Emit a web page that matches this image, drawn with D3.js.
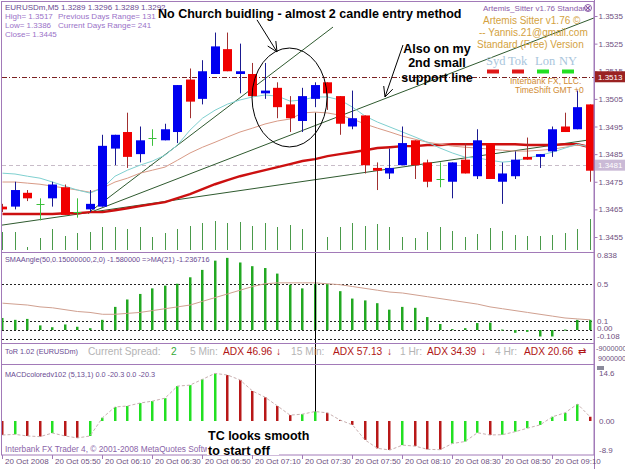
<!DOCTYPE html>
<html>
<head>
<meta charset="utf-8">
<script src="https://cdn.jsdelivr.net/npm/d3@7"></script>
<style>
body { margin: 0; background: #fff; }
svg { display: block; font-family: "Liberation Sans", Arial, sans-serif; }
</style>
</head>
<body>
<svg id="chart" width="625" height="469"></svg>
<script>
// EURUSDm M5, 20 Oct 2008 05:30 - 09:25 (48 bars)
var opens  = [1.3466,1.3466,1.3471,1.3467,1.3469,1.3473,1.3464,1.3465,1.3466,1.3487,1.3493,1.3485,1.3491,1.3490,1.3493,1.3512,1.3505,1.3514,1.3523,1.3514,1.3514,1.3507,1.3509,1.3503,1.3497,1.3505,1.3511,1.3506,1.3495,1.3499,1.3480,1.3478,1.3481,1.3490,1.3482,1.3476,1.3475,1.3483,1.3477,1.3489,1.3475,1.3477,1.3484,1.3484,1.3486,1.3495,1.3494,1.3503];
var highs  = [1.3467,1.3475,1.3472,1.3469,1.3475,1.3474,1.3469,1.3472,1.3492,1.3492,1.3500,1.3495,1.3494,1.3496,1.3510,1.3516,1.3519,1.3529,1.3529,1.3525,1.3518,1.3518,1.3511,1.3506,1.3509,1.3511,1.3511,1.3506,1.3508,1.3499,1.3482,1.3487,1.3495,1.3490,1.3483,1.3482,1.3482,1.3489,1.3494,1.3489,1.3482,1.3486,1.3491,1.3485,1.3495,1.3500,1.3508,1.3503];
var lows   = [1.3464,1.3465,1.3468,1.3461,1.3466,1.3463,1.3462,1.3464,1.3466,1.3481,1.3480,1.3482,1.3488,1.3490,1.3489,1.3498,1.3503,1.3514,1.3515,1.3507,1.3506,1.3505,1.3498,1.3493,1.3493,1.3502,1.3501,1.3492,1.3494,1.3478,1.3472,1.3476,1.3481,1.3476,1.3473,1.3473,1.3469,1.3478,1.3476,1.3476,1.3467,1.3476,1.3483,1.3480,1.3484,1.3493,1.3494,1.3475];
var closes = [1.3465,1.3472,1.3469,1.3467,1.3474,1.3463,1.3464,1.3467,1.3488,1.3492,1.3484,1.3490,1.3491,1.3494,1.3510,1.3504,1.3515,1.3524,1.3515,1.3515,1.3506,1.3508,1.3502,1.3498,1.3506,1.3510,1.3507,1.3496,1.3498,1.3481,1.3479,1.3480,1.3489,1.3481,1.3475,1.3476,1.3482,1.3478,1.3490,1.3476,1.3478,1.3483,1.3483,1.3485,1.3494,1.3493,1.3502,1.3479];
var volumes = [90,90,15,60,105,70,85,90,115,115,105,115,65,85,105,120,135,145,135,140,120,135,115,125,105,85,65,115,135,120,130,115,65,60,90,115,95,65,80,110,95,75,70,70,75,85,105,155];

// moving averages
var maFast = [1.34781,1.34778,1.34770,1.34763,1.34749,1.34734,1.34720,1.34709,1.34727,1.34770,1.34792,1.34810,1.34825,1.34846,1.34883,1.34937,1.34980,1.35009,1.35031,1.35046,1.35057,1.35064,1.35060,1.35042,1.35046,1.35057,1.35057,1.35046,1.35020,1.34988,1.34966,1.34948,1.34930,1.34912,1.34893,1.34872,1.34854,1.34839,1.34836,1.34828,1.34821,1.34825,1.34836,1.34846,1.34857,1.34872,1.34886,1.34875];
var maMid  = [1.34749,1.34749,1.34745,1.34741,1.34734,1.34727,1.34720,1.34712,1.34727,1.34749,1.34763,1.34781,1.34792,1.34803,1.34828,1.34854,1.34875,1.34893,1.34912,1.34930,1.34944,1.34959,1.34970,1.34977,1.34999,1.35002,1.34999,1.34991,1.34977,1.34959,1.34944,1.34930,1.34915,1.34904,1.34893,1.34886,1.34879,1.34875,1.34872,1.34868,1.34864,1.34861,1.34861,1.34864,1.34868,1.34875,1.34883,1.34879];
var maSlow = [1.34633,1.34633,1.34633,1.34633,1.34633,1.34636,1.34636,1.34640,1.34640,1.34647,1.34654,1.34662,1.34669,1.34676,1.34691,1.34705,1.34723,1.34741,1.34756,1.34770,1.34781,1.34792,1.34803,1.34814,1.34825,1.34832,1.34843,1.34850,1.34857,1.34864,1.34872,1.34875,1.34879,1.34879,1.34883,1.34883,1.34886,1.34886,1.34886,1.34886,1.34886,1.34886,1.34883,1.34883,1.34883,1.34886,1.34886,1.34875];

// trendlines: [startBar, startPrice, endBar, endPrice]
var trendlines = [
  [6.84, 1.34636, 26.44, 1.35310],
  [6.84, 1.34636, 47.32, 1.35343],
  [-0.04, 1.34593, 47.32, 1.34904]
];

var smaAngle = [0.13,0.11,0.12,0.05,0.03,0.06,0.035,0.02,0.11,0.25,0.33,0.39,0.45,0.48,0.50,0.57,0.65,0.75,0.78,0.73,0.69,0.67,0.61,0.49,0.45,0.50,0.50,0.42,0.34,0.32,0.29,0.22,0.25,0.24,0.14,0.065,0.01,0.02,0.075,0.08,0.005,-0.03,-0.02,-0.07,-0.07,0.005,0.11,0.11];
var smaAngleMA = [0.29,0.28,0.27,0.25,0.24,0.22,0.20,0.19,0.17,0.17,0.18,0.19,0.21,0.23,0.25,0.27,0.31,0.35,0.39,0.43,0.47,0.50,0.51,0.51,0.51,0.51,0.50,0.49,0.47,0.45,0.43,0.41,0.40,0.38,0.36,0.34,0.32,0.30,0.28,0.25,0.23,0.21,0.19,0.17,0.15,0.13,0.12,0.11];
var smaLevels = [0.5, 0.1, 0, -0.1];

var macd = [-4.3,-4.1,-4.6,-4.8,-3.7,-4.6,-5.2,-4.6,1.0,4.3,4.6,5.5,6.1,7.0,10.7,11.0,12.8,14.6,14.1,12.6,9.2,7.3,4.6,1.8,2.1,2.9,2.5,0.3,-1.2,-5.8,-8.4,-8.9,-7.4,-7.7,-8.7,-8.8,-6.9,-6.3,-3.6,-4.3,-4.2,-3.3,-2.2,-1.2,1.3,2.5,5.2,1.3];

var priceTicks = [1.3535,1.3525,1.3515,1.3505,1.3495,1.3485,1.3475,1.3465,1.3455];
var timeTicks = [0,4,8,12,16,20,24,28,32,36,40,44];
var timeLabels = ["20 Oct 2008","20 Oct 05:50","20 Oct 06:10","20 Oct 06:30","20 Oct 06:50","20 Oct 07:10","20 Oct 07:30","20 Oct 07:50","20 Oct 08:10","20 Oct 08:30","20 Oct 08:50","20 Oct 09:10"];

var LEFT = 2, RIGHT = 594;
var PURPLE = "#a27ab8", AXIS_TXT = "#6e5080";

var svg = d3.select("#chart");

var x = d3.scaleLinear().domain([0, 47]).range([2.5, 590]);
var y = d3.scaleLinear().domain([1.3455, 1.3535]).range([237, 16]);
var yVol = d3.scaleLinear().domain([0, 200]).range([250, 210]);
var ySma = d3.scaleLinear().domain([-0.108, 0.838]).range([340, 252.5]);
var yMacd = d3.scaleLinear().domain([-8.9, 14.6]).range([450, 373.4]);

function px(i) { return Math.floor(x(i)) + 0.5; }

var defs = svg.append("defs");
defs.append("clipPath").attr("id", "clipMain").append("rect")
    .attr("x", LEFT).attr("y", 2).attr("width", RIGHT - LEFT).attr("height", 250);

// ---------- main panel ----------
var main = svg.append("g").attr("clip-path", "url(#clipMain)");

// volumes
main.append("g").selectAll("line").data(volumes).enter().append("line")
    .attr("x1", (d, i) => px(i)).attr("x2", (d, i) => px(i))
    .attr("y1", yVol(0)).attr("y2", d => yVol(d))
    .attr("stroke", "#4a9a4a").attr("stroke-width", 1);

// levels
main.append("line").attr("x1", LEFT).attr("x2", RIGHT)
    .attr("y1", Math.round(y(1.3513)) + 0.5).attr("y2", Math.round(y(1.3513)) + 0.5)
    .attr("stroke", "#7a2020").attr("stroke-dasharray", "5,2,1,2");
main.append("line").attr("x1", LEFT).attr("x2", RIGHT)
    .attr("y1", Math.round(y(1.3481)) + 0.5).attr("y2", Math.round(y(1.3481)) + 0.5)
    .attr("stroke", "#c8bcc8").attr("stroke-dasharray", "4,3");

// trendlines
main.append("g").selectAll("line").data(trendlines).enter().append("line")
    .attr("x1", d => x(d[0])).attr("y1", d => y(d[1]))
    .attr("x2", d => x(d[2])).attr("y2", d => y(d[3]))
    .attr("stroke", "#2f5a2f").attr("stroke-width", 1);

var line = d3.line().x((d, i) => x(i)).y(d => y(d));
main.append("path").datum(maSlow).attr("d", line).attr("fill", "none")
    .attr("stroke", "#cc1010").attr("stroke-width", 2.4);
main.append("path").datum(maMid).attr("d", line).attr("fill", "none")
    .attr("stroke", "#d89a86").attr("stroke-width", 1);
main.append("path").datum(maFast).attr("d", line).attr("fill", "none")
    .attr("stroke", "#7fd0d0").attr("stroke-width", 1);

// candles
var candles = main.append("g");
opens.forEach(function(o, i) {
    var c = closes[i], h = highs[i], l = lows[i];
    var cx = px(i);
    if (c === o) {
        candles.append("line").attr("x1", cx).attr("x2", cx).attr("y1", y(h)).attr("y2", y(l))
            .attr("stroke", "#3cc03c");
        candles.append("line").attr("x1", cx - 4).attr("x2", cx + 4)
            .attr("y1", Math.round(y(c)) + 0.5).attr("y2", Math.round(y(c)) + 0.5)
            .attr("stroke", "#3cc03c");
        return;
    }
    var up = c > o;
    candles.append("line").attr("x1", cx).attr("x2", cx).attr("y1", y(h)).attr("y2", y(l))
        .attr("stroke", up ? "#1a1a90" : "#a03030");
    var top = y(Math.max(o, c)), bot = y(Math.min(o, c));
    candles.append("rect").attr("x", cx - 4.5).attr("width", 9)
        .attr("y", top).attr("height", Math.max(1.5, bot - top))
        .attr("fill", up ? "#0000f0" : "#f00000");
});

// annotations on main panel
var ann = svg.append("g").attr("stroke", "#000").attr("fill", "none").attr("stroke-width", 1);
ann.append("ellipse").attr("cx", x(22.96)).attr("cy", y(1.35055))
    .attr("rx", x(3) - x(0)).attr("ry", y(1.3535 - 0.00179) - y(1.3535));

function arrow(x0, y0, x1, y1) {
    ann.append("line").attr("x1", x0).attr("y1", y0).attr("x2", x1).attr("y2", y1);
    var a = Math.atan2(y1 - y0, x1 - x0);
    [-0.45, 0.45].forEach(function(s) {
        ann.append("line").attr("x1", x1).attr("y1", y1)
            .attr("x2", x1 - 11 * Math.cos(a + s)).attr("y2", y1 - 11 * Math.sin(a + s));
    });
}
arrow(x(20.36), y(1.35336), x(21.96), y(1.35220));
arrow(x(32.04), y(1.35245), x(30.6), y(1.35057));

// ---------- SMAAngle panel ----------
var sma = svg.append("g");
sma.selectAll("line.lvl").data(smaLevels).enter().append("line")
    .attr("x1", LEFT).attr("x2", RIGHT)
    .attr("y1", d => Math.round(ySma(d)) + 0.5).attr("y2", d => Math.round(ySma(d)) + 0.5)
    .attr("stroke", "#222").attr("stroke-dasharray", "2,2");
sma.append("g").selectAll("rect").data(smaAngle).enter().append("rect")
    .attr("x", (d, i) => Math.floor(x(i)) - 1).attr("width", 2.5)
    .attr("y", d => ySma(Math.max(d, 0)))
    .attr("height", d => Math.max(1, Math.abs(ySma(d) - ySma(0))))
    .attr("fill", "#22a822");
sma.append("path").datum(smaAngleMA)
    .attr("d", d3.line().x((d, i) => x(i)).y(d => ySma(d)))
    .attr("fill", "none").attr("stroke", "#d0a090").attr("stroke-width", 1);

// ---------- MACD panel ----------
var mac = svg.append("g");
mac.append("g").selectAll("rect").data(macd).enter().append("rect")
    .attr("x", (d, i) => Math.floor(x(i)) - 1).attr("width", 2.5)
    .attr("y", d => yMacd(Math.max(d, 0)))
    .attr("height", d => Math.abs(yMacd(d) - yMacd(0)))
    .attr("fill", (d, i) => (i === 0 || d < macd[i - 1]) ? "#b81818" : "#22e022");
mac.append("path").datum(macd)
    .attr("d", d3.line().x((d, i) => x(i)).y(d => yMacd(d)))
    .attr("fill", "none").attr("stroke", "#c8b0b0").attr("stroke-dasharray", "3,2");

// vertical annotation line
svg.append("line").attr("x1", px(25)).attr("x2", px(25))
    .attr("y1", y(1.3500)).attr("y2", yMacd(macd[25]))
    .attr("stroke", "#000").attr("stroke-width", 1);

// ---------- frames ----------
var frame = svg.append("g").attr("stroke", PURPLE).attr("fill", "none");
frame.append("rect").attr("x", 1.5).attr("y", 1.5).attr("width", RIGHT - 1.5).attr("height", 453.5);
[252.5, 343.5, 364.5].forEach(function(v) {
    frame.append("line").attr("x1", 1.5).attr("x2", RIGHT).attr("y1", v).attr("y2", v);
});
frame.append("line").attr("x1", RIGHT + 0.5).attr("x2", RIGHT + 0.5).attr("y1", 0).attr("y2", 469);

// price axis
var yAxis = svg.append("g").attr("transform", "translate(" + (RIGHT + 0.5) + ",0)")
    .call(d3.axisRight(y).tickValues(priceTicks).tickFormat(d3.format(".4f")).tickSize(3));
yAxis.select(".domain").remove();
yAxis.selectAll("line").attr("stroke", PURPLE);
yAxis.selectAll("text").attr("fill", AXIS_TXT).attr("font-size", 8)
    .attr("font-family", "Liberation Sans, Arial, sans-serif").attr("x", 4);

function tag(val, bg) {
    var g = svg.append("g");
    g.append("rect").attr("x", RIGHT + 1).attr("y", y(val) - 5.5).attr("width", 31).attr("height", 11).attr("fill", bg);
    g.append("text").attr("x", RIGHT + 4).attr("y", y(val) + 3).attr("fill", "#fff")
        .attr("font-size", 8).text(d3.format(".4f")(val));
}
tag(1.3513, "#9a2222");
tag(1.3481, "#cabad6");

// SMA axis labels
var smaLabels = [[0.838, "0.838", 5], [0.5, "0.5", 3], [0.1, "0.1", 3], [0, "0.00", 1], [-0.108, "-0.108", -1]];
svg.append("g").selectAll("text").data(smaLabels).enter().append("text")
    .attr("x", RIGHT + 3).attr("y", d => ySma(d[0]) + d[2])
    .attr("fill", AXIS_TXT).attr("font-size", 8).text(d => d[1]);

// MACD axis labels
var macdLabels = [[14.6, "14.6"], [0, "0.00"], [-8.9, "-8.9"]];
svg.append("g").selectAll("text").data(macdLabels).enter().append("text")
    .attr("x", RIGHT + 5).attr("y", d => yMacd(d[0]) + 3)
    .attr("fill", AXIS_TXT).attr("font-size", 8).text(d => d[1]);
svg.append("rect").attr("x", RIGHT + 3).attr("y", 366).attr("width", 7).attr("height", 4).attr("fill", "#8a8a9a");

svg.append("text").attr("x", RIGHT + 2).attr("y", 351).attr("fill", AXIS_TXT).attr("font-size", 7.2).text("-9000000");
svg.append("text").attr("x", RIGHT + 4).attr("y", 361).attr("fill", AXIS_TXT).attr("font-size", 7.2).text("9000000");

// time axis
var xAxis = svg.append("g").attr("transform", "translate(0,455)")
    .call(d3.axisBottom(x).tickValues(timeTicks).tickFormat((d, i) => timeLabels[i]).tickSize(4));
xAxis.select(".domain").remove();
xAxis.selectAll("line").attr("stroke", PURPLE).attr("transform", "translate(" + (-0.5) + ",0)");
xAxis.selectAll("text").attr("fill", AXIS_TXT).attr("font-size", 8)
    .attr("font-family", "Liberation Sans, Arial, sans-serif")
    .attr("text-anchor", "start").attr("x", 2).attr("y", 3).attr("dy", "0.7em");

// ---------- texts ----------
function txt(s, tx, ty, size, color, extra) {
    var t = svg.append("text").attr("x", tx).attr("y", ty).attr("font-size", size).attr("fill", color).text(s);
    if (extra) extra(t);
    return t;
}
txt("EURUSDm,M5  1.3289 1.3296 1.3289 1.3292", 5, 10, 8, "#6a4a92");
txt("High= 1.3517", 5, 19, 8, "#9a72c8");
txt("Previous Days Range= 131", 58, 19, 8, "#9a72c8");
txt("Low= 1.3386", 5, 28, 8, "#9a72c8");
txt("Current Days Range= 241", 58, 28, 8, "#9a72c8");
txt("Close= 1.3445", 5, 37, 8, "#9a72c8");

txt("Artemis_Sitter v1.76 Standard", 483, 11, 8, "#8a5aa8");
svg.append("circle").attr("cx", 588).attr("cy", 8).attr("r", 3.5).attr("fill", "none").attr("stroke", "#8a5aa8");
svg.append("path").attr("d", "M585.8,5.8L590.2,10.2M590.2,5.8L585.8,10.2").attr("stroke", "#8a5aa8");
txt("Artemis Sitter v1.76 ©", 483, 24, 10, "#d4a23e");
txt("-- Yannis.21@gmail.com", 479, 36, 10, "#d4a23e");
txt("Standard (Free) Version", 477, 48, 10, "#d4a23e");
var serif = t => t.attr("font-family", "Liberation Serif, DejaVu Serif, serif");
txt("Syd", 486, 65, 12.5, "#a9c5dc", serif);
txt("Tok", 508, 65, 12.5, "#a9c5dc", serif);
txt("Lon", 535, 65, 12.5, "#a9c5dc", serif);
txt("NY", 559, 65, 12.5, "#a9c5dc", serif);
[["#e01818", 487], ["#e01818", 512], ["#22e022", 537], ["#22e022", 562]].forEach(function(s) {
    svg.append("rect").attr("x", s[1]).attr("y", 69.5).attr("width", 12).attr("height", 4).attr("fill", s[0]);
});
txt("Interbank FX, LLC.", 510, 84, 8.5, "#d08a30");
txt("TimeShift GMT +0", 515, 93, 8.5, "#d08a30");

txt("SMAAngle(50,0.15000000,2,0) -1.580000  =>MA(21) -1.236716", 5, 262, 7.3, "#6a4a92");
txt("MACDcoloredv102 (5,13,1) 0.0 -20.3 0.0 -20.3", 5, 377, 7.3, "#6a4a92");
txt("Interbank FX Trader 4, © 2001-2008 MetaQuotes Software Corp.", 5, 452, 8.3, "#8a64a8");

// ToR row
var grey = "#b4b4b4", dred = "#b01616";
txt("ToR 1.02 (EURUSDm)", 5, 354, 7.3, "#6a4a92");
[["Current Spread:", 88, grey], ["2", 171, "#36a836"], ["5 Min:", 190, grey], ["ADX 46.96", 223, dred], ["\u2193", 276, dred],
 ["15 Min:", 291, grey], ["ADX 57.13", 333, dred], ["\u2193", 387, dred], ["1 Hr:", 400, grey], ["ADX 34.39", 427, dred],
 ["\u2193", 481, dred], ["4 Hr:", 495, grey], ["ADX 20.66", 524, dred], ["\u21c4", 578, dred]].forEach(function(s) {
    txt(s[0], s[1], 355, 10.2, s[2]);
});

// hand-written notes
var bold = t => t.attr("font-weight", "bold");
txt("No Church buidling - almost 2 candle entry method", 158, 18, 12.5, "#000", bold);
txt("Also on my", 437, 53, 12.5, "#000", t => { bold(t); t.attr("text-anchor", "middle"); });
txt("2nd small", 437, 67, 12.5, "#000", t => { bold(t); t.attr("text-anchor", "middle"); });
txt("support line", 437, 82, 12.5, "#000", t => { bold(t); t.attr("text-anchor", "middle"); });
svg.append("rect").attr("x", 207).attr("y", 443).attr("width", 72).attr("height", 12).attr("fill", "#fff");
txt("TC looks smooth", 208, 440, 12.5, "#000", bold);
txt("to start off", 208, 455, 12.5, "#000", bold);
</script>
</body>
</html>
